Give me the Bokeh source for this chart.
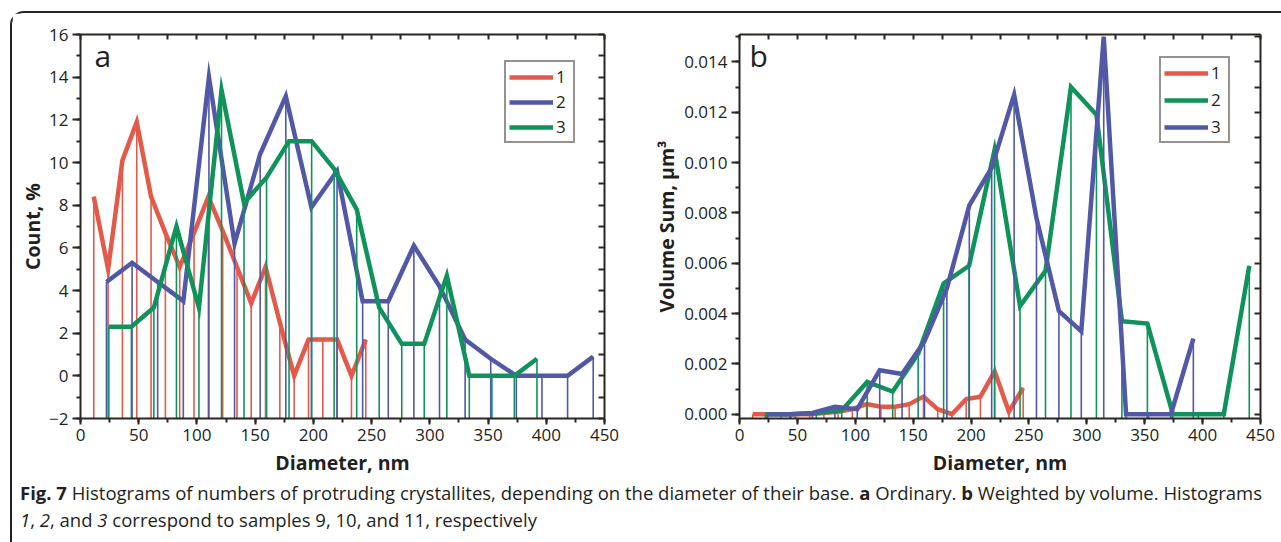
from bokeh.plotting import figure
from bokeh.models import (Range1d, LinearAxis, SingleIntervalTicker, CustomJSTickFormatter,
                          Legend, LegendItem, Label, Div, PrintfTickFormatter)
from bokeh.layouts import row, column
from bokeh.embed import file_html
from bokeh.resources import INLINE

# ---------------- data ----------------
x1 = [11.4, 23.7, 36.0, 48.3, 60.6, 72.9, 85.2, 97.5, 109.8, 122.1,
      134.4, 146.6, 158.9, 171.2, 183.5, 195.8, 208.1, 220.4, 232.7, 245.0]
x2 = [22.3, 44.3, 66.3, 88.3, 110.3, 132.3, 154.3, 176.3, 198.3, 220.3,
      242.3, 264.3, 286.3, 308.3, 330.3, 352.3, 374.3, 396.3, 418.3, 440.3]
x3 = [24.3, 43.7, 63.0, 82.4, 101.7, 121.1, 140.4, 159.8, 179.1, 198.5,
      217.8, 237.2, 256.5, 275.9, 295.2, 314.6, 333.9, 353.3, 372.6, 392.0]

# panel a: count, %
a_y1 = [8.4, 5.0, 10.1, 11.9, 8.4, 6.7, 5.1, 6.7, 8.4, 6.8,
        5.1, 3.4, 5.1, 2.5, 0.0, 1.7, 1.7, 1.7, 0.0, 1.7]
a_y2 = [4.4, 5.3, 4.4, 3.5, 14.0, 6.2, 10.4, 13.1, 7.9, 9.6,
        3.5, 3.5, 6.1, 4.2, 1.7, 0.8, 0.0, 0.0, 0.0, 0.9]
a_y3 = [2.3, 2.3, 3.2, 7.0, 3.2, 13.4, 8.1, 9.3, 11.0, 11.0,
        9.7, 7.8, 3.2, 1.5, 1.5, 4.7, 0.0, 0.0, 0.0, 0.8]

# panel b: volume sum, um^3
b_y1 = [0.0, 0.0, 0.0, 0.0, 0.0, 0.00005, 0.0001, 0.0002, 0.0004, 0.0003,
        0.0003, 0.0004, 0.0007, 0.0002, 0.0, 0.0006, 0.0007, 0.0017, 0.0001, 0.00105]
b_y2 = [0.0, 0.0, 0.00005, 0.00015, 0.00128, 0.0009, 0.0024, 0.0052, 0.0059, 0.0105,
        0.0043, 0.0057, 0.0130, 0.0119, 0.0037, 0.0036, 0.0, 0.0, 0.0, 0.0059]
b_y3 = [0.0, 0.0, 0.00005, 0.0003, 0.0002, 0.00175, 0.0016, 0.0029, 0.0050, 0.0083,
        0.0098, 0.0127, 0.0078, 0.0041, 0.0033, 0.0150, 0.0, 0.0, 0.0, 0.0030]

labels = ["1", "2", "3"]
RED, BLUE, GREEN = "#e35a4b", "#5158a6", "#0f935a"
AXC = "#2b2622"
FONT = "Open Sans"


def style_axis(ax):
    ax.axis_line_color = AXC
    ax.axis_line_width = 2
    ax.major_tick_line_color = AXC
    ax.major_tick_line_width = 2
    ax.minor_tick_line_color = AXC
    ax.minor_tick_line_width = 2
    ax.major_label_text_font = FONT
    ax.major_label_text_font_size = "17px"
    ax.major_label_text_color = "#231f20"
    ax.axis_label_text_font = FONT
    ax.axis_label_text_font_size = "19.5px"
    ax.axis_label_text_font_style = "bold"
    ax.axis_label_text_color = "#231f20"


def make_panel(width, yr, mbl, mbr, mbt, ymaj, yright, ylabel, ylab_standoff, fmt, series,
               colors, letter, letter_pos, legend_loc, legend_dims):
    p = figure(width=width, height=465, x_range=Range1d(0, 450), y_range=Range1d(*yr),
               output_backend="svg", toolbar_location=None,
               min_border_left=mbl, min_border_right=mbr, min_border_top=mbt,
               min_border_bottom=60, x_axis_type=None, y_axis_type=None)
    p.outline_line_color = None
    p.background_fill_color = "white"
    p.border_fill_color = "white"

    bottom = LinearAxis(ticker=SingleIntervalTicker(interval=50, num_minor_ticks=2),
                        axis_label="Diameter, nm")
    style_axis(bottom)
    bottom.major_tick_in = 0
    bottom.major_tick_out = 6
    bottom.minor_tick_in = 0
    bottom.minor_tick_out = 4
    bottom.major_label_standoff = 4
    bottom.axis_label_standoff = 5
    p.add_layout(bottom, "below")

    left = LinearAxis(ticker=SingleIntervalTicker(interval=ymaj, num_minor_ticks=2),
                      axis_label=ylabel)
    if fmt is not None:
        left.formatter = fmt
    style_axis(left)
    left.major_tick_in = 0
    left.major_tick_out = 8
    left.minor_tick_in = 0
    left.minor_tick_out = 4
    left.major_label_standoff = 4
    left.axis_label_standoff = ylab_standoff
    p.add_layout(left, "left")

    top = LinearAxis(ticker=SingleIntervalTicker(interval=25, num_minor_ticks=0),
                     formatter=CustomJSTickFormatter(code="return ''"))
    style_axis(top)
    top.major_tick_in = 5
    top.major_tick_out = 0
    top.minor_tick_in = 0
    top.minor_tick_out = 0
    top.major_label_standoff = 0
    p.add_layout(top, "above")

    right = LinearAxis(ticker=SingleIntervalTicker(interval=yright, num_minor_ticks=0),
                       formatter=CustomJSTickFormatter(code="return ''"))
    style_axis(right)
    right.major_tick_in = 6
    right.major_tick_out = 0
    right.minor_tick_in = 0
    right.minor_tick_out = 0
    right.major_label_standoff = 0
    p.add_layout(right, "right")

    ybot = yr[0]
    items = []
    for (xs, ys), col, lab in zip(series, colors, labels):
        p.segment(x0=xs, y0=[ybot] * len(xs), x1=xs, y1=ys, line_color=col,
                  line_width=1.6)
        r = p.line(xs, ys, line_color=col, line_width=4.5, line_join="miter")
        items.append(LegendItem(label=lab, renderers=[r]))

    pad, sp = legend_dims
    leg = Legend(items=items, location=legend_loc, orientation="vertical",
                 border_line_color=AXC, border_line_width=2, padding=pad, spacing=sp,
                 glyph_width=44, glyph_height=20, label_height=20, label_width=14,
                 label_standoff=3, label_text_font=FONT, label_text_font_size="17px",
                 label_text_color="#231f20", margin=0, background_fill_alpha=1)
    p.add_layout(leg)

    p.add_layout(Label(x=letter_pos[0], y=letter_pos[1], text=letter,
                       text_font=FONT, text_font_size="30px", text_color="#231f20",
                       text_baseline="alphabetic"))
    return p


pa = make_panel(638, (-2, 16), 68, 46, 20, 2, 1, "Count, %", 0, None,
                [(x1, a_y1), (x2, a_y2), (x3, a_y3)], [RED, BLUE, GREEN],
                "a", (12, 15.02), (424, 275), (3, 2))
pb = make_panel(631, (-0.00017, 0.01509), 87, 21, 21, 0.002, 0.001,
                "Volume Sum, \u03bcm\u00b3", 1,
                PrintfTickFormatter(format="%.3f"),
                [(x1, b_y1), (x2, b_y2), (x3, b_y3)], [RED, GREEN, BLUE],
                "b", (8.6, 0.01426), (420, 275), (3, 4))

caption = Div(
    text=("<b>Fig. 7</b> Histograms of numbers of protruding crystallites, depending on the "
          "diameter of their base. <b>a</b> Ordinary. <b>b</b> Weighted by volume. Histograms<br>"
          "<i>1</i>, <i>2</i>, and <i>3</i> correspond to samples 9, 10, and 11, respectively"),
    width=1269, height=64, margin=(0, 0, 0, 0),
    styles={"font-family": "'Open Sans', sans-serif",
            "font-size": "18.5px", "color": "#231f20", "line-height": "27px",
            "padding-left": "8px", "padding-top": "1px", "white-space": "nowrap"})

root = column(row(pa, pb, spacing=0), caption, spacing=0, margin=(11, 0, 0, 10),
              styles={"border-left": "2px solid #222", "border-top": "2px solid #222",
                      "border-top-left-radius": "14px"})

open("out.html", "w").write(file_html(root, INLINE))
